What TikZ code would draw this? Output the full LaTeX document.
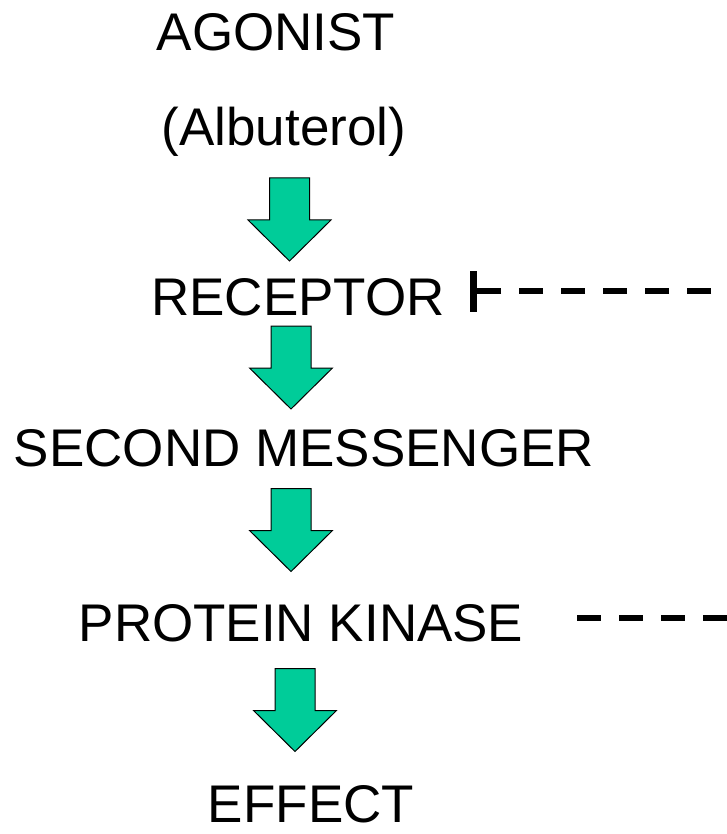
\documentclass[tikz,border=0pt]{standalone}
\usepackage{fontspec}
\setmainfont{Liberation Sans}
\usetikzlibrary{arrows.meta}

\definecolor{stepgreen}{RGB}{0,204,153}

\begin{document}
\begin{tikzpicture}[
    x=1pt, y=-1pt,
    label/.style={
	anchor=base,
	inner sep=0pt,
	font=\fontsize{53}{60}\selectfont
    },
    fatdown/.pic={
	\draw[fill=stepgreen, line width=1pt, line join=miter]
	    (-20,-41.5) -- (20,-41.5) -- (20,0.5) -- (41.5,0.5)
	    -- (0,41.5) -- (-41.5,0.5) -- (-20,0.5) -- cycle;
    },
    inhibit/.style={
	line width=6pt,
	dash pattern=on 24.5pt off 17.5pt,
	dash phase=26pt,
	-{Bar[width=41pt,line width=7pt]}
    },
    blocked/.style={
	line width=6pt,
	dash pattern=on 24pt off 18pt
    }
]
	\useasboundingbox (0,0) rectangle (727,834);

	\node[label] (agonist) at (276,51) {AGONIST};
	\node[label] (albuterol) at (284,146) {(Albuterol)};
	\node[label] (receptor) at (298,315) {RECEPTOR};
	\node[label] (messenger) at (304,466) {SECOND MESSENGER};
	\node[label] (kinase) at (301,641) {PROTEIN KINASE};
	\node[label, text depth=0pt] (effect) at (311,822) {EFFECT};

	% block arrows down the chain
	\pic at (289.5,219.5) {fatdown};
	\pic at (291,367.5) {fatdown};
	\pic at (291,530) {fatdown};
	\pic at (295,710) {fatdown};

	% Receptor block
	\coordinate (edge1) at (727,291);
	\coordinate (recbar) at (470,291);
	\draw[inhibit] (edge1) -- (recbar);

	% Kinase line
	\coordinate (kinstart) at (577,618);
	\coordinate (edge2) at (727,618);
	\draw[blocked] (kinstart) -- (edge2);
\end{tikzpicture}
\end{document}
